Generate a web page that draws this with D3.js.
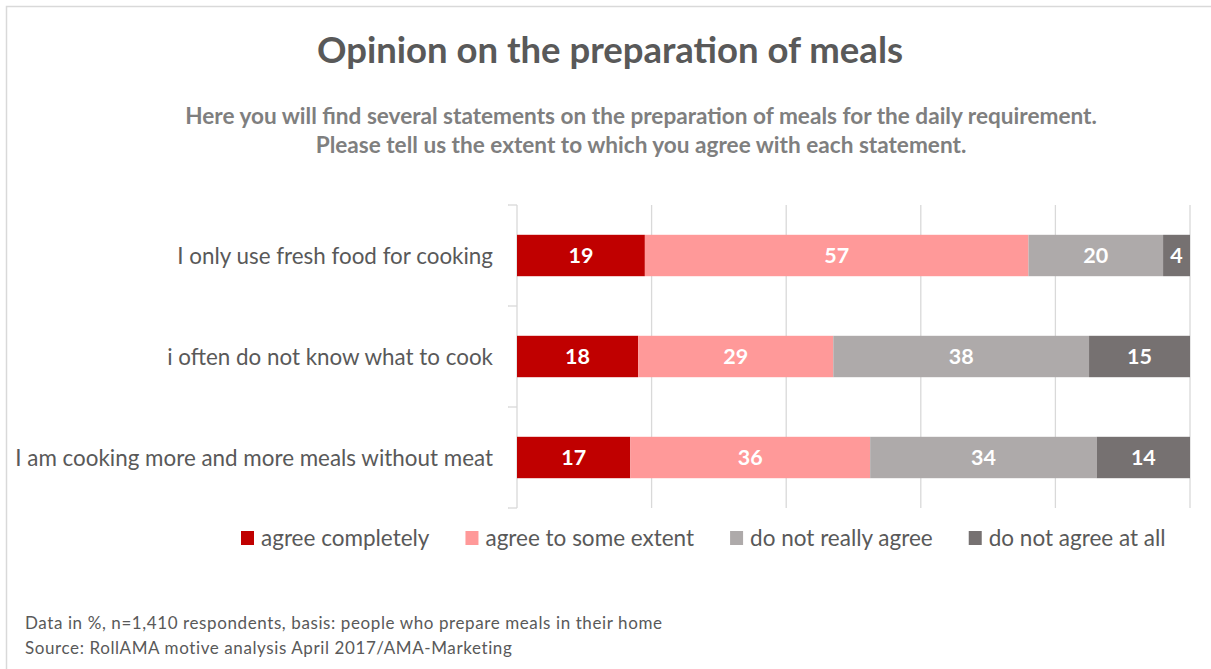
<!DOCTYPE html>
<html>
<head>
<meta charset="utf-8">
<script src="https://cdn.jsdelivr.net/npm/d3@7"></script>
<style>
  html, body { margin: 0; padding: 0; background: #ffffff; }
  svg { display: block; }
  text { font-family: Lato, "Open Sans", sans-serif; }
</style>
</head>
<body>
<svg id="chart" width="1211" height="669"></svg>
<script>
// Survey statements (top to bottom)
const statements = [
  "I only use fresh food for cooking",
  "i often do not know what to cook",
  "I am cooking more and more meals without meat"
];

// Answer categories, in stacking order
const answers = [
  "agree completely",
  "agree to some extent",
  "do not really agree",
  "do not agree at all"
];

// Share of respondents in % per statement, one array per answer
const agreeCompletely   = [19, 18, 17];
const agreeSomeExtent   = [57, 29, 36];
const notReallyAgree    = [20, 38, 34];
const notAgreeAtAll     = [4, 15, 14];

const answerColors = ["#c00000", "#ff9999", "#aeaaaa", "#767171"];

const xTicks = [0, 0.2, 0.4, 0.6, 0.8, 1];

const titleText = "Opinion on the preparation of meals";
const subtitleLines = [
  "Here you will find several statements on the preparation of meals for the daily requirement.",
  "Please tell us the extent to which you agree with each statement."
];
const footnoteLines = [
  "Data in %, n=1,410 respondents, basis: people who prepare meals in their home",
  "Source: RollAMA motive analysis April 2017/AMA-Marketing"
];

// Rows for the stack layout
const seriesValues = [agreeCompletely, agreeSomeExtent, notReallyAgree, notAgreeAtAll];
const rows = statements.map((s, i) => {
  const r = { statement: s };
  answers.forEach((a, j) => { r[a] = seriesValues[j][i]; });
  return r;
});

const svg = d3.select("#chart");
const W = 1211, H = 669;
const grey = "#595959";

// Frame (top and left edges)
svg.append("path")
  .attr("d", `M6.5,${H} V6.5 H${W}`)
  .attr("fill", "none")
  .attr("stroke", "#d9d9d9")
  .attr("stroke-width", 1.5);

// Title and subtitle
svg.append("text")
  .attr("x", 610).attr("y", 63)
  .attr("text-anchor", "middle")
  .attr("font-size", 36.5).attr("font-weight", 700)
  .attr("fill", grey)
  .text(titleText);

svg.selectAll("text.subtitle")
  .data(subtitleLines)
  .join("text")
  .attr("class", "subtitle")
  .attr("x", 641)
  .attr("y", (d, i) => 124 + i * 29)
  .attr("text-anchor", "middle")
  .attr("font-size", 22.6).attr("font-weight", 700)
  .attr("fill", "#7f7f7f")
  .text(d => d);

// Plot area
const plot = { left: 517, right: 1190, top: 205, bottom: 508 };

const x = d3.scaleLinear().domain([0, 1]).range([plot.left, plot.right]);
const y = d3.scaleBand()
  .domain(statements)
  .range([plot.top, plot.bottom])
  .paddingInner(0.59)
  .paddingOuter(0.295);

const stack = d3.stack()
  .keys(answers)
  .offset(d3.stackOffsetExpand);
const layers = stack(rows);

// Vertical gridlines
svg.append("g")
  .selectAll("line")
  .data(xTicks.slice(1))
  .join("line")
  .attr("x1", d => x(d)).attr("x2", d => x(d))
  .attr("y1", plot.top).attr("y2", plot.bottom)
  .attr("stroke", "#d9d9d9").attr("stroke-width", 1.3);

// Category axis with outward ticks between bands
const yAxisG = svg.append("g");
yAxisG.append("line")
  .attr("x1", plot.left).attr("x2", plot.left)
  .attr("y1", plot.top).attr("y2", plot.bottom)
  .attr("stroke", "#d9d9d9").attr("stroke-width", 1.3);
const bandStep = (plot.bottom - plot.top) / statements.length;
yAxisG.selectAll("line.tick")
  .data(d3.range(statements.length + 1))
  .join("line")
  .attr("class", "tick")
  .attr("x1", plot.left - 9).attr("x2", plot.left)
  .attr("y1", d => plot.top + d * bandStep)
  .attr("y2", d => plot.top + d * bandStep)
  .attr("stroke", "#d9d9d9").attr("stroke-width", 1.3);

yAxisG.selectAll("text")
  .data(statements)
  .join("text")
  .attr("x", 493)
  .attr("y", d => y(d) + y.bandwidth() / 2)
  .attr("dy", "0.36em")
  .attr("text-anchor", "end")
  .attr("font-size", 22.4)
  .attr("fill", grey)
  .text(d => d);

// Stacked bars
const layerG = svg.append("g")
  .selectAll("g")
  .data(layers)
  .join("g")
  .attr("fill", (d, i) => answerColors[i]);

layerG.selectAll("rect")
  .data(d => d.map(p => ({ p, key: d.key })))
  .join("rect")
  .attr("x", d => x(d.p[0]))
  .attr("y", d => y(d.p.data.statement))
  .attr("width", d => x(d.p[1]) - x(d.p[0]))
  .attr("height", y.bandwidth());

// Value labels
layerG.selectAll("text")
  .data(d => d.map(p => ({ p, key: d.key })))
  .join("text")
  .attr("x", d => (x(d.p[0]) + x(d.p[1])) / 2)
  .attr("y", d => y(d.p.data.statement) + y.bandwidth() / 2)
  .attr("dy", "0.36em")
  .attr("text-anchor", "middle")
  .attr("font-size", 21.5).attr("font-weight", 700)
  .attr("fill", "#ffffff")
  .text(d => d.p.data[d.key]);

// Legend
const legendG = svg.append("g").attr("transform", "translate(241,538)");
let lx = 0;
answers.forEach((a, i) => {
  const item = legendG.append("g").attr("transform", `translate(${lx},0)`);
  item.append("rect")
    .attr("x", 0).attr("y", -7)
    .attr("width", 13).attr("height", 14)
    .attr("fill", answerColors[i]);
  const t = item.append("text")
    .attr("x", 20).attr("y", 0)
    .attr("dy", "0.36em")
    .attr("font-size", 22.5)
    .attr("fill", grey)
    .text(a);
  lx += 20 + t.node().getComputedTextLength() + 36;
});

// Footnote
svg.selectAll("text.footnote")
  .data(footnoteLines)
  .join("text")
  .attr("class", "footnote")
  .attr("x", 25)
  .attr("y", (d, i) => 629 + i * 25)
  .attr("font-size", 17)
  .attr("letter-spacing", 0.6)
  .attr("fill", grey)
  .text(d => d);
</script>
</body>
</html>
